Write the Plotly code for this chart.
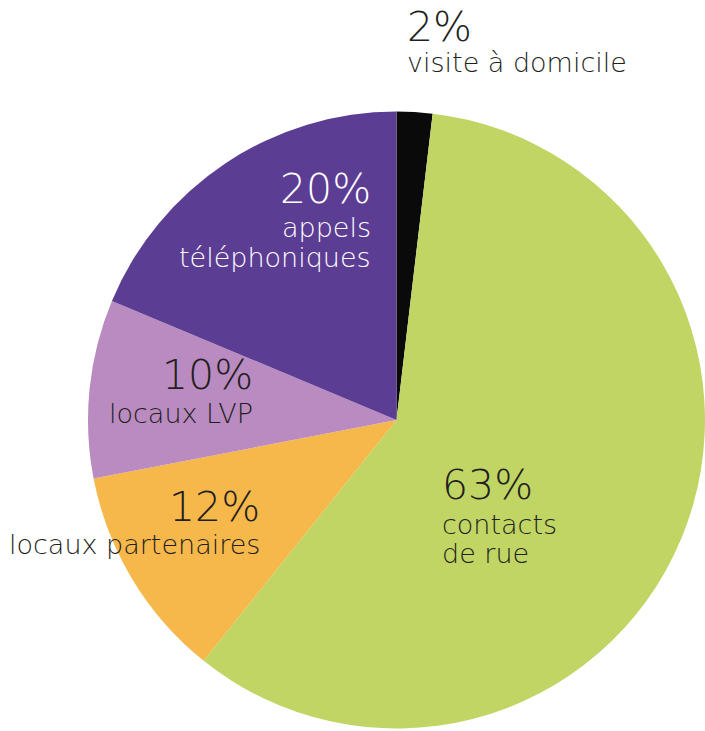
import plotly.graph_objects as go

# Data
categories = ["visite à domicile", "contacts<br>de rue", "locaux partenaires", "locaux LVP", "appels<br>téléphoniques"]
values = [2, 63, 12, 10, 20]
pct_labels = ["2%", "63%", "12%", "10%", "20%"]
colors = ["#0a0a0a", "#c0d563", "#f7b84b", "#b98bc0", "#5c3d94"]
text_colors = ["#231f20", "#231f20", "#231f20", "#231f20", "#ffffff"]

W, H = 705, 731
FONT = "'DejaVu Sans', sans-serif"
PCT_SIZE = 41
LAB_SIZE = 27

fig = go.Figure(go.Pie(
    labels=[c.replace("<br>", " ") for c in categories],
    values=values,
    marker=dict(colors=colors, line=dict(width=0)),
    sort=False,
    direction="clockwise",
    rotation=0,
    textinfo="none",
    hoverinfo="label+percent",
    domain=dict(x=[88 / W, 1.0], y=[1 - 728.5 / H, 1 - 111.5 / H]),
    showlegend=False,
))

# label placements: x pixel, percent centre y, first label line centre y, anchor
placements = [
    (405, 27, 63, "left"),    # visite à domicile
    (440, 485, 524, "left"),  # contacts de rue
    (262, 507, 544, "right"), # locaux partenaires
    (255, 375, 413, "right"), # locaux LVP
    (373, 189, 228, "right"), # appels téléphoniques
]
LINE_GAP = 29.5

annotations = []
for cat, pct, tc, (px, py_pct, py_lab, anch) in zip(categories, pct_labels, text_colors, placements):
    annotations.append(dict(
        x=px / W, y=1 - py_pct / H, xref="paper", yref="paper",
        xanchor=anch, yanchor="middle", showarrow=False,
        text=pct, align=anch,
        font=dict(family=FONT, size=PCT_SIZE, color=tc, weight=200),
    ))
    for i, line in enumerate(cat.split("<br>")):
        annotations.append(dict(
            x=px / W, y=1 - (py_lab + i * LINE_GAP) / H, xref="paper", yref="paper",
            xanchor=anch, yanchor="middle", showarrow=False,
            text=line, align=anch,
            font=dict(family=FONT, size=LAB_SIZE, color=tc, weight=200),
        ))

fig.update_layout(
    width=W, height=H,
    margin=dict(l=0, r=0, t=0, b=0),
    paper_bgcolor="white",
    plot_bgcolor="white",
    annotations=annotations,
)

fig.write_html("out.html", config={"displayModeBar": False},
               post_script="document.body.style.margin='0';")
